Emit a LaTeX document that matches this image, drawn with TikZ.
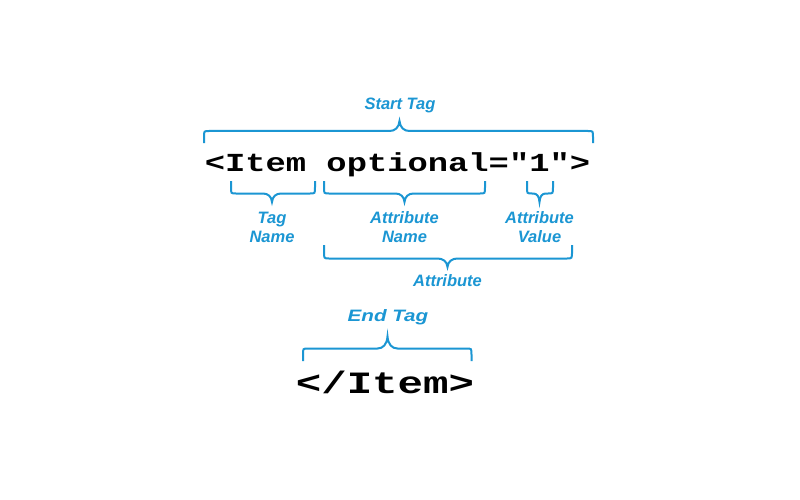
\documentclass[tikz,border=0pt]{standalone}
\usepackage{fontspec}
\newfontfamily\codefont{Liberation Mono}
\newfontfamily\labfont{Liberation Sans}
\definecolor{xblue}{RGB}{27,150,211}
% x1,x2,y-end,y-line,x-tip,y-tip,tip half-width
\newcommand\xbrace[7]{%
  \draw[br] (#1,#3) -- (#1,{#4+0.5*(#3-#4)}) .. controls (#1,#4) .. ({#1+5},#4)
    -- ({#5-#7},#4)
    .. controls ({#5-0.45*#7},#4) and ({#5-0.05*#7},{#4+0.35*(#6-#4)}) .. (#5,#6)
    .. controls ({#5+0.05*#7},{#4+0.35*(#6-#4)}) and ({#5+0.45*#7},#4) .. ({#5+#7},#4)
    -- ({#2-5},#4) .. controls (#2,#4) .. (#2,{#4+0.5*(#3-#4)}) -- (#2,#3);}
\begin{document}
\begin{tikzpicture}[x=1pt,y=-1pt,
  br/.style={draw=xblue,line width=2pt},
  code/.style={inner sep=0pt,anchor=base,font=\codefont\bfseries},
  lab/.style={inner sep=0pt,anchor=base,text=xblue,align=center,
    font=\labfont\bfseries\itshape\fontsize{16.5}{19.5}\selectfont}]
\useasboundingbox[fill=white] (0,0) rectangle (800,500);
% start tag
\node[code,xscale=1.3,font=\codefont\bfseries\fontsize{26}{26}\selectfont] (start) at (397.5,171.7) {<Item optional="1">};
\node[lab] (lstart) at (400,109.3) {Start Tag};
\xbrace{204}{593}{143}{131}{399.5}{121}{10}
% parts
\xbrace{231}{315}{181}{193.5}{272}{202}{9}
\xbrace{324}{485}{181}{193.5}{404.5}{202}{9}
\xbrace{527}{553}{181}{193.5}{539.5}{202}{6}
\node[lab] (ltag) at (272,242.7) {Tag\\Name};
\node[lab] (lattn) at (404.5,242.7) {Attribute\\Name};
\node[lab] (lattv) at (539.5,242.7) {Attribute\\Value};
\xbrace{324}{572}{245}{258.5}{447.5}{267}{10}
\node[lab] (latt) at (447.5,286.7) {Attribute};
% end tag
\node[lab,xscale=1.25] (lend) at (388,321.7) {End Tag};
\xbrace{303}{471.5}{361}{348.5}{387.5}{336.5}{10}
\node[code,xscale=1.37,font=\codefont\bfseries\fontsize{31}{31}\selectfont] (end) at (385,393.3) {</Item>};
\end{tikzpicture}
\end{document}
